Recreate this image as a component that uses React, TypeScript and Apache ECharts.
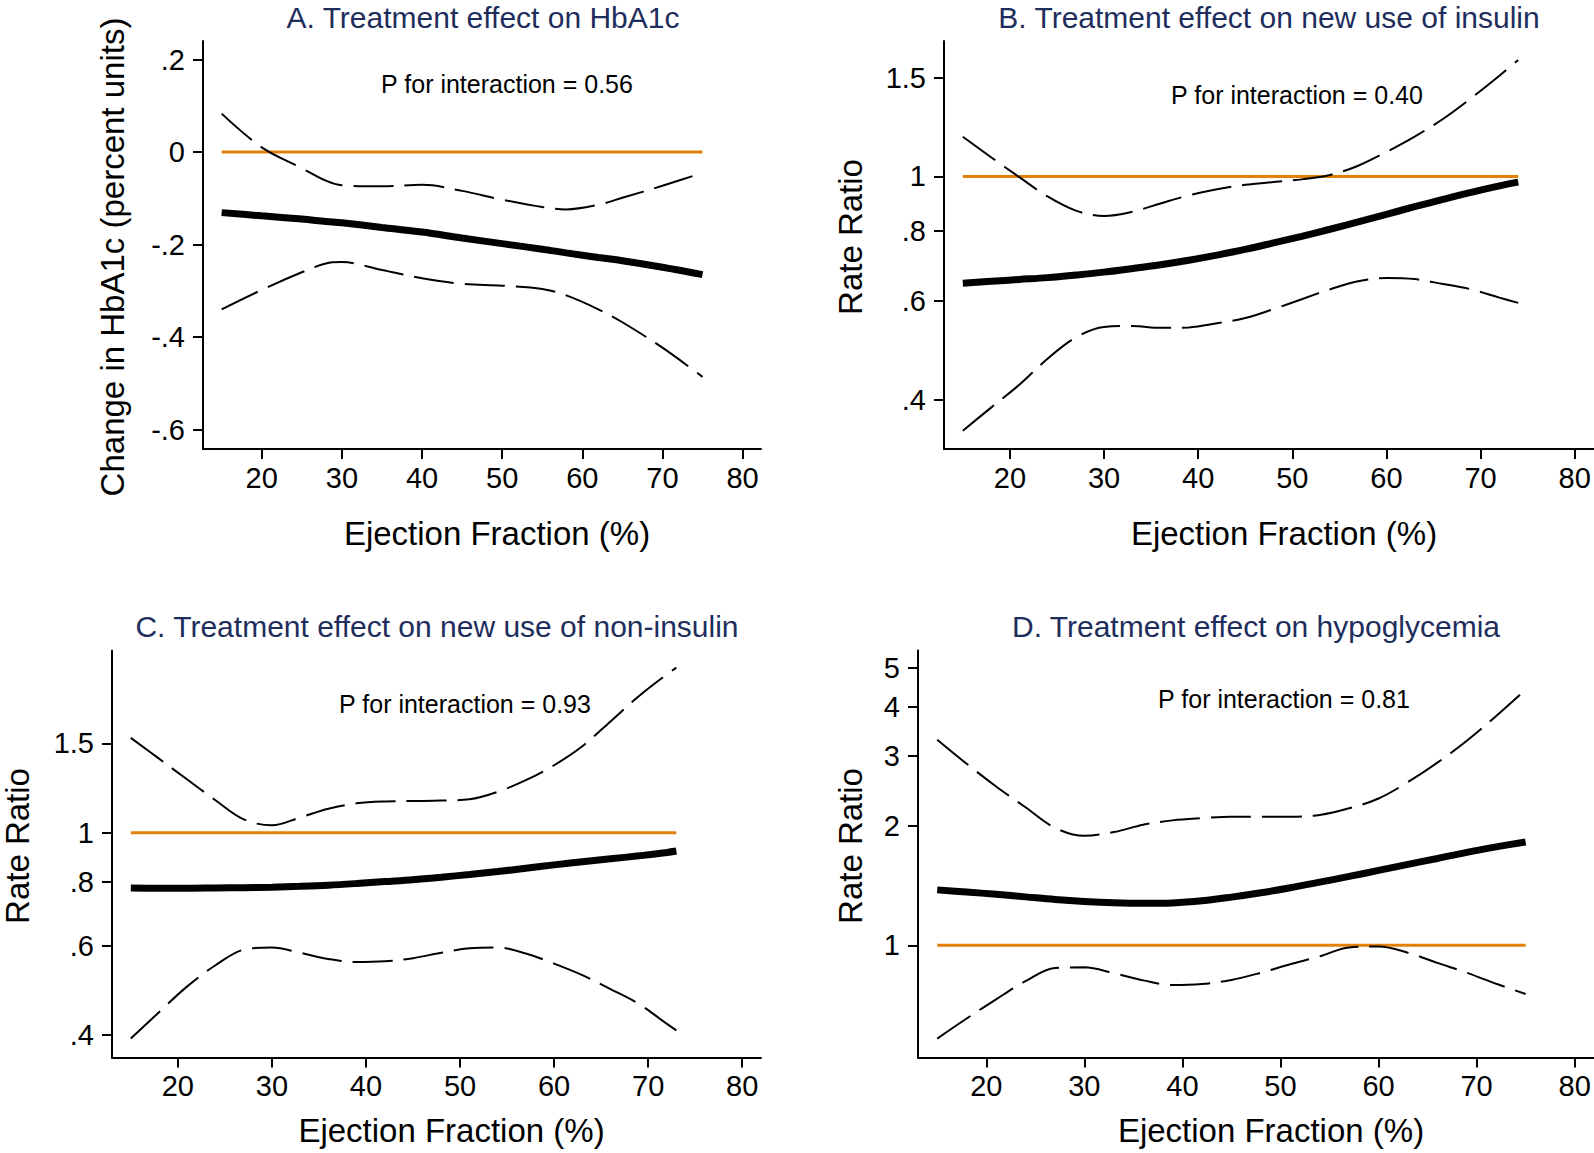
import React, { useEffect, useRef } from "react";
import * as echarts from "echarts";

// ---------- data ----------
const X_TICKS = [20, 30, 40, 50, 60, 70, 80];

// Panel A: HbA1c (linear scale)
const A_EF = [15, 20, 25, 28, 30, 35, 40, 45, 50, 55, 58, 62, 65, 70, 75];
const A_EST = [-0.131, -0.138, -0.145, -0.15, -0.153, -0.163, -0.173, -0.186, -0.198, -0.21, -0.218, -0.228, -0.235, -0.249, -0.265];
const A_UPPER = [0.083, 0.01, -0.035, -0.062, -0.072, -0.074, -0.071, -0.084, -0.103, -0.119, -0.124, -0.114, -0.099, -0.073, -0.045];
const A_LOWER = [-0.34, -0.298, -0.26, -0.241, -0.238, -0.255, -0.273, -0.285, -0.289, -0.296, -0.31, -0.34, -0.368, -0.423, -0.486];
const A_Y_TICKS = [-0.6, -0.4, -0.2, 0, 0.2];
const A_REF = { from: 15, to: 75, value: 0 };

// Panel B: new use of insulin (rate ratio, log scale)
const B_EF = [15, 18, 21, 24, 27, 30, 33, 36, 39, 42, 45, 48, 51, 54, 57, 60, 63, 66, 69, 72, 74];
const B_EST = [0.645, 0.65, 0.655, 0.66, 0.667, 0.675, 0.685, 0.696, 0.709, 0.724, 0.741, 0.761, 0.782, 0.805, 0.83, 0.856, 0.883, 0.91, 0.937, 0.962, 0.977];
const B_UPPER = [1.177, 1.082, 0.997, 0.921, 0.869, 0.85, 0.865, 0.895, 0.925, 0.949, 0.966, 0.977, 0.988, 1.006, 1.045, 1.106, 1.178, 1.266, 1.379, 1.512, 1.613];
const B_LOWER = [0.352, 0.387, 0.425, 0.473, 0.516, 0.539, 0.541, 0.537, 0.538, 0.547, 0.559, 0.58, 0.604, 0.629, 0.65, 0.659, 0.656, 0.643, 0.629, 0.608, 0.595];
const B_Y_TICKS = [0.4, 0.6, 0.8, 1, 1.5];
const B_REF = { from: 15, to: 74, value: 1 };

// Panel C: new use of non-insulin (rate ratio, log scale)
const C_EF = [15, 18, 21, 24, 27, 30, 33, 36, 39, 42, 45, 48, 51, 54, 57, 60, 63, 66, 69, 72, 73];
const C_EST = [0.779, 0.778, 0.778, 0.779, 0.78, 0.782, 0.785, 0.789, 0.795, 0.802, 0.809, 0.818, 0.828, 0.839, 0.852, 0.865, 0.877, 0.889, 0.901, 0.915, 0.921];
const C_UPPER = [1.537, 1.399, 1.273, 1.159, 1.063, 1.035, 1.072, 1.115, 1.143, 1.153, 1.155, 1.157, 1.164, 1.204, 1.269, 1.358, 1.48, 1.656, 1.856, 2.05, 2.112];
const C_LOWER = [0.394, 0.444, 0.499, 0.549, 0.589, 0.595, 0.581, 0.565, 0.557, 0.559, 0.567, 0.581, 0.593, 0.595, 0.579, 0.553, 0.525, 0.493, 0.461, 0.421, 0.409];
const C_Y_TICKS = [0.4, 0.6, 0.8, 1, 1.5];
const C_REF = { from: 15, to: 73, value: 1 };

// Panel D: hypoglycemia (rate ratio, log scale)
const D_EF = [15, 18, 21, 24, 27, 30, 33, 36, 39, 42, 45, 48, 51, 54, 57, 60, 63, 66, 69, 72, 75];
const D_EST = [1.38, 1.363, 1.345, 1.325, 1.305, 1.29, 1.28, 1.276, 1.279, 1.295, 1.323, 1.357, 1.397, 1.443, 1.492, 1.545, 1.6, 1.656, 1.716, 1.771, 1.823];
const D_UPPER = [3.3, 2.87, 2.516, 2.23, 1.98, 1.889, 1.93, 2.014, 2.066, 2.092, 2.11, 2.11, 2.11, 2.132, 2.216, 2.346, 2.581, 2.888, 3.281, 3.789, 4.414];
const D_LOWER = [0.582, 0.654, 0.731, 0.812, 0.877, 0.88, 0.851, 0.816, 0.794, 0.799, 0.818, 0.853, 0.896, 0.938, 0.988, 0.993, 0.958, 0.903, 0.853, 0.8, 0.754];
const D_Y_TICKS = [1, 2, 3, 4, 5];
const D_REF = { from: 15, to: 75, value: 1 };

const TITLES = [
  "A. Treatment effect on HbA1c",
  "B. Treatment effect on new use of insulin",
  "C. Treatment effect on new use of non-insulin",
  "D. Treatment effect on hypoglycemia",
];
const P_TEXTS = [
  "P for interaction = 0.56",
  "P for interaction = 0.40",
  "P for interaction = 0.93",
  "P for interaction = 0.81",
];
const Y_NAMES = ["Change in HbA1c (percent units)", "Rate Ratio", "Rate Ratio", "Rate Ratio"];
const X_NAME = "Ejection Fraction (%)";

// ---------- layout / style ----------
const FONT = '"Liberation Sans", Arial, Helvetica, sans-serif';
const NAVY = "#1e2e5c";
const ORANGE = "#e3800a";

const PANELS = [
  {
    grid: { left: 203, top: 41, width: 558, height: 408 },
    xMin: 12.67, xMax: 82.3,
    yType: "value", yMin: -0.642, yMax: 0.24, yTicks: A_Y_TICKS,
    ef: A_EF, est: A_EST, upper: A_UPPER, lower: A_LOWER, ref: A_REF,
    yGap: 74, yPad: [0, 24, 0, 0], xGap: 68,
    title: { x: 483, y: 17 }, p: { x: 507, y: 84 },
  },
  {
    grid: { left: 944, top: 41, width: 650, height: 408 },
    xMin: 13.0, xMax: 82.05,
    yType: "log", yMin: 0.3265, yMax: 1.744, yTicks: B_Y_TICKS,
    ef: B_EF, est: B_EST, upper: B_UPPER, lower: B_LOWER, ref: B_REF,
    yGap: 77, yPad: [0, 0, 0, 16], xGap: 68,
    title: { x: 1269, y: 17 }, p: { x: 1297, y: 95 },
  },
  {
    grid: { left: 112, top: 650.5, width: 649, height: 407 },
    xMin: 13.0, xMax: 82.0,
    yType: "log", yMin: 0.3616, yMax: 2.283, yTicks: C_Y_TICKS,
    ef: C_EF, est: C_EST, upper: C_UPPER, lower: C_LOWER, ref: C_REF,
    yGap: 78, yPad: [0, 0, 0, 16], xGap: 56,
    title: { x: 437, y: 626 }, p: { x: 465, y: 704 },
  },
  {
    grid: { left: 918, top: 650.5, width: 676, height: 407 },
    xMin: 13.04, xMax: 81.97,
    yType: "log", yMin: 0.5214, yMax: 5.54, yTicks: D_Y_TICKS,
    ef: D_EF, est: D_EST, upper: D_UPPER, lower: D_LOWER, ref: D_REF,
    yGap: 51, yPad: [0, 0, 0, 16], xGap: 56,
    title: { x: 1256, y: 626 }, p: { x: 1284, y: 699 },
  },
];

function fmtTick(v: number): string {
  const r = Math.round(v * 1000) / 1000;
  if (r === 0) return "0";
  return String(r).replace(/^0\./, ".").replace(/^-0\./, "-.");
}

function zip(xs: number[], ys: number[]) {
  return xs.map((x, i) => [x, ys[i]]);
}

function buildOption() {
  const grid: any[] = [];
  const xAxis: any[] = [];
  const yAxis: any[] = [];
  const series: any[] = [];
  const graphic: any[] = [];

  PANELS.forEach((p, i) => {
    grid.push({ ...p.grid, containLabel: false });
    xAxis.push({
      gridIndex: i,
      type: "value",
      min: p.xMin,
      max: p.xMax,
      axisLine: { show: true, onZero: false, lineStyle: { color: "#000", width: 2 } },
      axisTick: { show: true, length: 10, lineStyle: { color: "#000", width: 2 }, customValues: X_TICKS },
      axisLabel: { customValues: X_TICKS, fontSize: 29, color: "#000", fontFamily: FONT, margin: 14 },
      splitLine: { show: false },
      name: X_NAME,
      nameLocation: "middle",
      nameGap: p.xGap,
      nameTextStyle: { fontSize: 33, color: "#000", fontFamily: FONT, padding: [0, 0, 0, 30] },
    });
    yAxis.push({
      gridIndex: i,
      type: p.yType,
      min: p.yMin,
      max: p.yMax,
      axisLine: { show: true, onZero: false, lineStyle: { color: "#000", width: 2 } },
      axisTick: { show: true, length: 10, lineStyle: { color: "#000", width: 2 }, customValues: p.yTicks },
      axisLabel: {
        customValues: p.yTicks,
        fontSize: 29,
        color: "#000",
        fontFamily: FONT,
        margin: 18,
        formatter: (v: number) => fmtTick(v),
      },
      splitLine: { show: false },
      minorTick: { show: false },
      name: Y_NAMES[i],
      nameLocation: "middle",
      nameRotate: 90,
      nameGap: p.yGap,
      nameTextStyle: { fontSize: 33, color: "#000", fontFamily: FONT, padding: p.yPad },
    });

    series.push({
      type: "line",
      xAxisIndex: i,
      yAxisIndex: i,
      data: [
        [p.ref.from, p.ref.value],
        [p.ref.to, p.ref.value],
      ],
      symbol: "none",
      silent: true,
      lineStyle: { color: ORANGE, width: 3 },
      z: 2,
    });
    [p.upper, p.lower].forEach((arr) => {
      series.push({
        type: "line",
        xAxisIndex: i,
        yAxisIndex: i,
        data: zip(p.ef, arr),
        symbol: "none",
        smooth: 0.35,
        silent: true,
        lineStyle: { color: "#000", width: 2, type: [40, 11] },
        z: 3,
      });
    });
    series.push({
      type: "line",
      xAxisIndex: i,
      yAxisIndex: i,
      data: zip(p.ef, p.est),
      symbol: "none",
      smooth: 0.35,
      silent: true,
      lineStyle: { color: "#000", width: 7 },
      z: 4,
    });

    graphic.push({
      type: "text",
      x: p.title.x,
      y: p.title.y,
      silent: true,
      style: {
        text: TITLES[i],
        fill: NAVY,
        fontSize: 30,
        fontFamily: FONT,
        textAlign: "center",
        textVerticalAlign: "middle",
        align: "center",
        verticalAlign: "middle",
      },
    });
    graphic.push({
      type: "text",
      x: p.p.x,
      y: p.p.y,
      silent: true,
      style: {
        text: P_TEXTS[i],
        fill: "#000",
        fontSize: 25,
        fontFamily: FONT,
        textAlign: "center",
        textVerticalAlign: "middle",
        align: "center",
        verticalAlign: "middle",
      },
    });
  });

  return {
    animation: false,
    backgroundColor: "#ffffff",
    textStyle: { fontFamily: FONT },
    grid,
    xAxis,
    yAxis,
    series,
    graphic,
  };
}

export default function App() {
  const ref = useRef<HTMLDivElement | null>(null);
  useEffect(() => {
    if (!ref.current) return;
    const chart = echarts.init(ref.current, undefined, { renderer: "svg" });
    chart.setOption(buildOption() as any);
    return () => chart.dispose();
  }, []);
  return (
    <div
      ref={ref}
      style={{ position: "absolute", left: 0, top: 0, width: 1594, height: 1153, background: "#fff" }}
    />
  );
}
